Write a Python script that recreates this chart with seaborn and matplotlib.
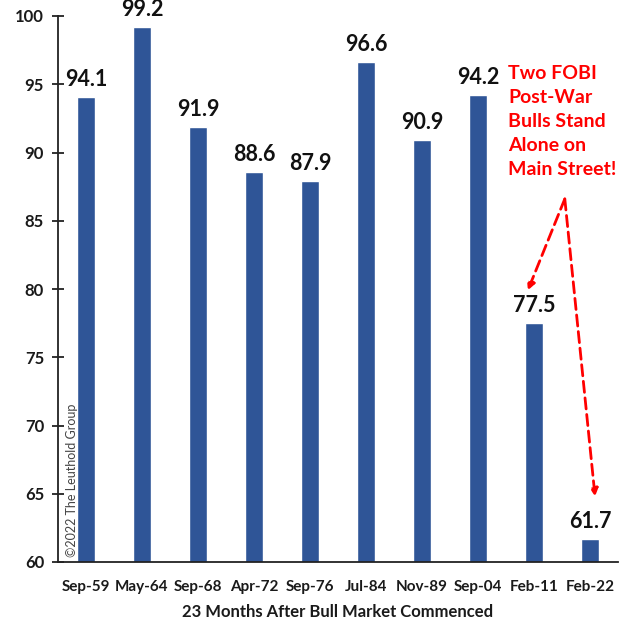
import matplotlib
matplotlib.use("Agg")
import matplotlib.pyplot as plt
import seaborn as sns
import pandas as pd
import numpy as np

categories = ["Sep-59", "May-64", "Sep-68", "Apr-72", "Sep-76", "Jul-84", "Nov-89", "Sep-04", "Feb-11", "Feb-22"]
values = [94.1, 99.2, 91.9, 88.6, 87.9, 96.6, 90.9, 94.2, 77.5, 61.7]
yticks = [60, 65, 70, 75, 80, 85, 90, 95, 100]

sns.set_theme(style="white")
plt.rcParams['font.family'] = ['Lato', 'DejaVu Sans']

df = pd.DataFrame({"period": categories, "value": values})

fig = plt.figure(figsize=(6.21, 6.20), dpi=100)
ax = fig.add_axes([58/621, 1-562/620, 560/621, 546/620])
sns.barplot(data=df, x="period", y="value", color="#2F5597", saturation=1, width=0.32, ax=ax)

ax.set_ylim(60, 100)
ax.set_xlim(-0.5, len(categories)-0.5)
ax.set_yticks(yticks)
ax.set_yticklabels([str(t) for t in yticks], fontsize=12, fontweight="bold", color="#1a1a1a")
ax.set_xticks(range(len(categories)))
ax.set_xticklabels(categories, fontsize=11, fontweight="bold", color="#1a1a1a")
ax.set_xticks(np.arange(-0.5, len(categories)+0.5, 1), minor=True)
ax.tick_params(axis="x", which="major", length=0, pad=13)
ax.tick_params(axis="x", which="minor", length=8, width=1.3, direction="inout", color="#222222")
ax.tick_params(axis="y", which="major", length=8, width=1.3, direction="inout", color="#222222", pad=6, left=True)

for s in ["top", "right"]:
    ax.spines[s].set_visible(False)
for s in ["left", "bottom"]:
    ax.spines[s].set_color("#222222")
    ax.spines[s].set_linewidth(1.3)

ax.set_xlabel("23 Months After Bull Market Commenced", fontsize=12, fontweight="bold", color="#1a1a1a", labelpad=7)
ax.set_ylabel("")

for i, v in enumerate(values):
    ax.annotate(f"{v:.1f}", (i, v), xytext=(0, 5), textcoords="offset points",
                ha="center", va="bottom", fontsize=15.5, fontweight="bold", color="#111111")

ax.text(7.54, 96.4, "Two FOBI\nPost-War\nBulls Stand\nAlone on\nMain Street!", color="#ff0000",
        fontsize=14, fontweight="bold", ha="left", va="top", linespacing=1.5)

start = (8.55, 86.6)
for end in [(7.89, 79.9), (9.09, 64.8)]:
    ax.annotate("", xy=end, xytext=start,
                arrowprops=dict(arrowstyle="-|>", color="#ff0000", lw=2, linestyle=(0, (4, 2)),
                                mutation_scale=11, shrinkA=0, shrinkB=0))

ax.text(-0.25, 60.4, "©2022 The Leuthold Group", rotation=90, fontsize=9, color="#444444",
        ha="center", va="bottom", zorder=10)

fig.savefig("out.png", dpi=100)
